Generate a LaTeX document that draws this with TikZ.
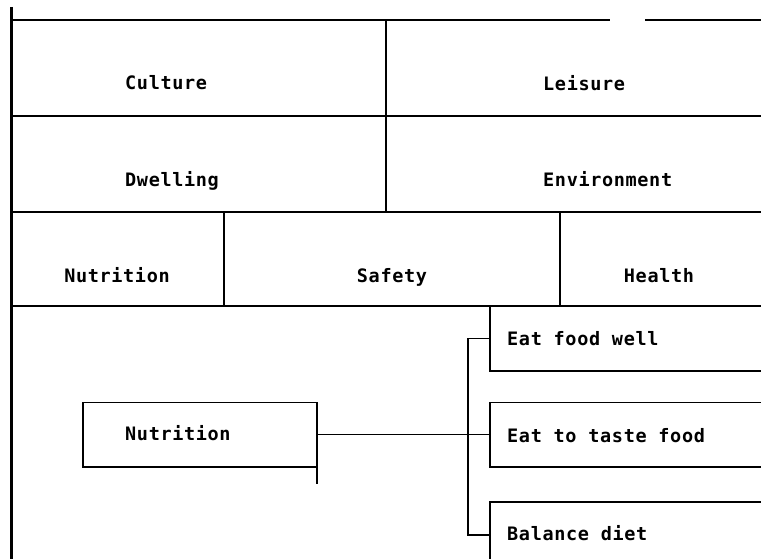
\documentclass[tikz,border=0pt]{standalone}
\usepackage{fontspec}
\newfontfamily\chartfont[LetterSpace=3.5]{DejaVu Sans Mono Bold}
\begin{document}
\begin{tikzpicture}[x=1pt,y=-1pt,
  rule/.style={line width=1.6pt},
  heavy/.style={line width=3pt},
  mid/.style={line width=2.2pt},
  lbl/.style={inner sep=0pt,font=\chartfont\fontsize{18.5}{21}\selectfont},
]
\useasboundingbox (0,0) rectangle (761,559);

% left spine
\draw[heavy] (11,7) -- (11,559);

% horizontal bands of the chart
\draw[rule] (11,20) -- (610,20);
\draw[rule] (645,20) -- (761,20);
\draw[rule] (11,116) -- (761,116);
\draw[rule] (11,212) -- (761,212);
\draw[rule] (11,306) -- (761,306);

% column dividers
\draw[mid] (386,20) -- (386,212);
\draw[mid] (224,212) -- (224,306);
\draw[mid] (560,213) -- (560,306);

% labels of the upper bands
\node[lbl,anchor=base west] (culture) at (125,90) {Culture};
\node[lbl,anchor=base west] (leisure) at (543,91) {Leisure};
\node[lbl,anchor=base west] (dwelling) at (125,187) {Dwelling};
\node[lbl,anchor=base west] (environment) at (543,187) {Environment};
\node[lbl,anchor=base] (nutritionA) at (117,282) {Nutrition};
\node[lbl,anchor=base] (safety) at (392,282) {Safety};
\node[lbl,anchor=base] (health) at (659,282) {Health};

% breakdown of nutrition
\node[inner sep=0pt,minimum width=234pt,minimum height=64pt] (nut) at (200,434.5) {};
\draw[rule] (nut.north west) rectangle (nut.south east);
\draw[rule] (nut.south east) -- ++(0,17);
\node[lbl,anchor=base west] (nutritionB) at (125,440) {Nutrition};

\node[inner sep=0pt,minimum width=271pt,minimum height=65pt] (eat1) at (625.5,338.5) {};
\node[inner sep=0pt,minimum width=271pt,minimum height=64pt] (eat2) at (625.5,434.5) {};
\node[inner sep=0pt,minimum width=271pt,minimum height=66pt] (eat3) at (625.5,535) {};
\draw[rule] (eat1.north west) -- (eat1.south west) -- (eat1.south east);
\draw[rule] (eat2.north east) -- (eat2.north west) -- (eat2.south west) -- (eat2.south east);
\draw[rule] (eat3.north east) -- (eat3.north west) -- (eat3.south west);
\node[lbl,anchor=base west] (eatwell) at (507,345) {Eat food well};
\node[lbl,anchor=base west] (eattaste) at (507,442) {Eat to taste food};
\node[lbl,anchor=base west] (balance) at (507,540) {Balance diet};

% connectors
\coordinate (bus) at (468,434.5);
\draw[rule] (nut.east) -- (eat2.west);
\draw[rule] (eat1.west) -| (bus) |- (eat3.west);
\end{tikzpicture}
\end{document}
